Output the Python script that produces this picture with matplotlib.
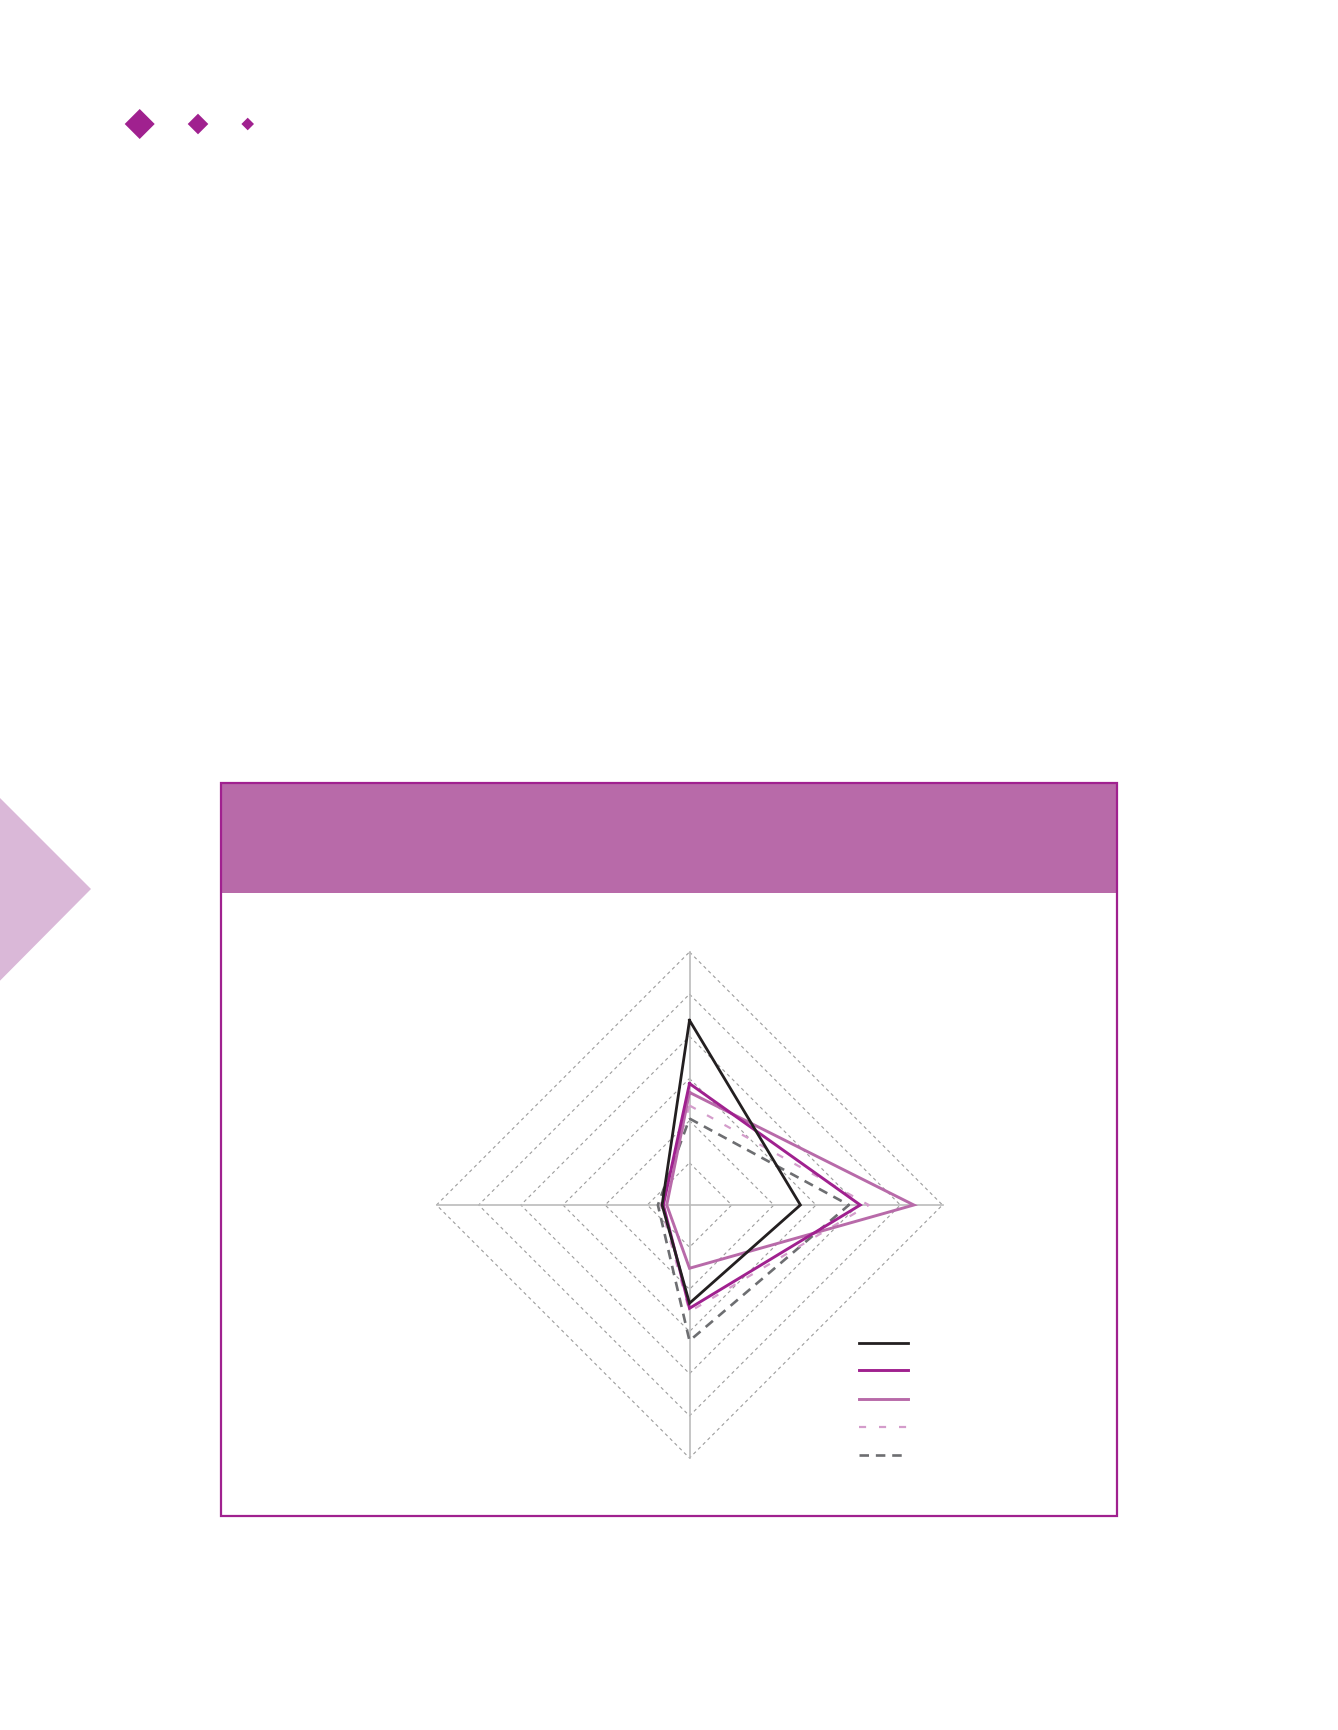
import numpy as np
import matplotlib
matplotlib.use("Agg")
import matplotlib.pyplot as plt
from matplotlib.patches import Polygon, Rectangle
from matplotlib.lines import Line2D

# ---- data (radar with 4 axes: top, right, bottom, left), scale 0..6 ----
axes_names = ["A", "B", "C", "D"]
ring_levels = [1, 2, 3, 4, 5, 6]
s_black = [4.38, 2.63, 2.33, 0.65]
s_purple = [2.88, 4.05, 2.45, 0.62]
s_lilac = [2.67, 5.32, 1.50, 0.54]
s_pink_dash = [2.36, 4.25, 2.53, 0.68]
s_gray_dash = [2.05, 3.78, 3.22, 0.75]

W, H = 1338, 1731
fig = plt.figure(figsize=(W / 100, H / 100), dpi=100)
fig.patch.set_facecolor("white")

def fx(x):
    return x / W

def fy(y):
    return 1 - y / H

def fpts(pts):
    return [(fx(x), fy(y)) for x, y in pts]

PURPLE = "#A0218F"
LILAC = "#B86AA9"
PINK = "#D49CCB"
BLACK = "#231F20"
GRAY = "#6D6E71"

# decorative diamonds
for cx, cy, h in [(139.7, 125, 15), (198, 125, 10.3), (247.7, 125, 6.3)]:
    fig.add_artist(Polygon(fpts([(cx, cy - h), (cx + h, cy), (cx, cy + h), (cx - h, cy)]),
                           closed=True, facecolor=PURPLE, edgecolor="none",
                           transform=fig.transFigure))
# left triangle
fig.add_artist(Polygon(fpts([(0, 799), (91, 890), (0, 981.7)]), closed=True,
                       facecolor="#DAB8D8", edgecolor="none", transform=fig.transFigure))

# box and header
bx0, by0, bx1, by1 = 220.7, 783.5, 1117.3, 1516.5
fig.add_artist(Rectangle((fx(bx0), fy(894.3)), fx(bx1 - bx0), (894.3 - by0) / H,
                         facecolor=LILAC, edgecolor="none", transform=fig.transFigure))
fig.add_artist(Rectangle((fx(bx0), fy(by1)), fx(bx1 - bx0), (by1 - by0) / H,
                         facecolor="none", edgecolor=PURPLE, linewidth=1.6,
                         transform=fig.transFigure))

# radar axes (Cartesian, equal scaling)
cx_px, cy_px, R_px = 689.5, 1206.0, 253.0
lim = 6.3
size_px = 2 * lim * R_px / 6
ax = fig.add_axes([fx(cx_px - size_px / 2), fy(cy_px + size_px / 2),
                   size_px / W, size_px / H])
ax.set_xlim(-lim, lim)
ax.set_ylim(-lim, lim)
ax.axis("off")

n = len(axes_names)
ang = np.pi / 2 - np.arange(n) * 2 * np.pi / n
ux, uy = np.cos(ang), np.sin(ang)

# grid rings
for r in ring_levels:
    xs = list(r * ux) + [r * ux[0]]
    ys = list(r * uy) + [r * uy[0]]
    ax.plot(xs, ys, color="#9C9C9C", lw=0.8, linestyle=(0, (3, 3)), zorder=1)
# spokes
rmax = max(ring_levels)
for i in range(n):
    ax.plot([0, rmax * ux[i]], [0, rmax * uy[i]], color="#BBBBBB", lw=1.2, zorder=1)

series = [
    (s_black, BLACK, 2.0, "-"),
    (s_purple, PURPLE, 2.1, "-"),
    (s_lilac, LILAC, 2.1, "-"),
    (s_pink_dash, PINK, 1.6, (0, (3.2, 5.8))),
    (s_gray_dash, GRAY, 1.9, (0, (3.6, 2.6))),
]
for vals, col, lw, ls in series[::-1]:
    v = np.array(vals)
    xs = list(v * ux) + [v[0] * ux[0]]
    ys = list(v * uy) + [v[0] * uy[0]]
    ax.plot(xs, ys, color=col, lw=lw, linestyle=ls, zorder=3, solid_joinstyle="miter")

# legend handles (no text in reference)
leg_y = [1343.6, 1371.0, 1399.6, 1428.2, 1455.7]
for (vals, col, lw, ls), yy in zip(series, leg_y):
    fig.add_artist(Line2D([fx(858.5), fx(907.8)], [fy(yy), fy(yy)], color=col, lw=lw,
                          linestyle=ls, transform=fig.transFigure))

fig.savefig("out.png", dpi=100, facecolor="white")
